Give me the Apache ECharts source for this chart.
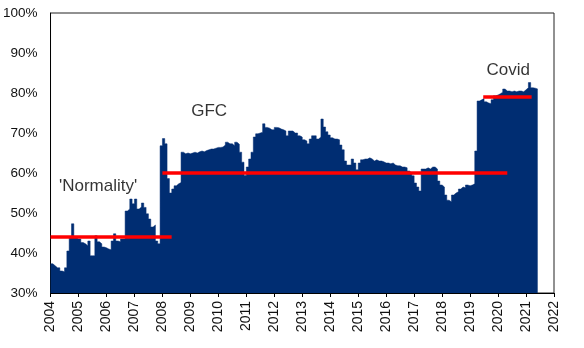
<!DOCTYPE html>
<html>
<head>
<meta charset="utf-8">
<script src="https://cdn.jsdelivr.net/npm/echarts@6/dist/echarts.min.js"></script>
<style>
  html, body { margin: 0; padding: 0; background: #fff; }
  #chart { width: 584px; height: 348px; }
</style>
</head>
<body>
<div id="chart"></div>
<script>
// Monthly values (%), January to December of each year
const y2004 = [37.3, 36.8, 36.3, 36.3, 35.5, 35.3, 36.3, 40.5, 44, 47.3, 44, 43.5];
const y2005 = [43.5, 42.6, 42.3, 41.8, 43, 39.3, 39.3, 44.3, 42.8, 42.3, 41.5, 41.3];
const y2006 = [41, 40.8, 43, 44.8, 43, 42.8, 43.5, 43.5, 50.5, 51, 53.5, 52.3];
const y2007 = [53.5, 51, 51.5, 52.5, 51.4, 49.8, 48.5, 46.5, 47, 43, 42.3, 66.8];
const y2008 = [68.6, 67.3, 58.6, 55, 56, 56.8, 57.3, 57.6, 65.2, 64.8, 65, 64.8];
const y2009 = [65, 65.2, 65, 65.3, 65.5, 65.3, 65.6, 65.8, 66, 66, 66.2, 66.4];
const y2010 = [66.4, 66.5, 67, 67.7, 67.3, 67.3, 66.8, 67.7, 67.2, 65.2, 62.7, 59.4];
const y2011 = [61.5, 63.5, 65.2, 69, 69.8, 70, 70.2, 72.3, 71.4, 71.2, 70.8, 70.8];
const y2012 = [71.4, 71.3, 71, 70.8, 70.5, 69.3, 70.5, 70.5, 70, 70, 69.3, 69];
const y2013 = [68.3, 68, 67.3, 68.5, 69.3, 69.3, 68.5, 69, 73.5, 71.5, 70.3, 69.5];
const y2014 = [68.8, 68.5, 68.5, 68.3, 67, 65.8, 63, 62, 62, 63.5, 62.5, 60.8];
const y2015 = [62.5, 63.3, 63.5, 63.5, 63.8, 63.5, 63, 63.3, 63, 63, 62.8, 62.5];
const y2016 = [62.5, 62.3, 62.5, 62, 61.8, 61.8, 61.5, 61.5, 61.3, 60.5, 60, 59.3];
const y2017 = [57.5, 56.5, 55.5, 61, 61, 61.3, 61, 61.5, 61.5, 61, 58, 57];
const y2018 = [56.5, 54.5, 53.2, 52.8, 54.5, 55, 55.3, 56, 56.5, 56.3, 57, 56.8];
const y2019 = [57, 57.3, 65.5, 78, 78.3, 78.6, 77.8, 77.5, 77.3, 78.3, 79.3, 79.5];
const y2020 = [79.8, 80.2, 81, 80.5, 80.5, 80.3, 80.5, 80.3, 80.5, 80.5, 80.3, 80.8];
const y2021 = [81.3, 82.6, 81.3, 81.2, 81];

const startYear = 2004;
const years = [y2004, y2005, y2006, y2007, y2008, y2009, y2010, y2011, y2012,
               y2013, y2014, y2015, y2016, y2017, y2018, y2019, y2020, y2021];

// Regime averages: [label, fromYear, toYear, level]
const regimeNames = ["'Normality'", "GFC", "Covid"];
const regimeFrom  = [2004.0, 2008.0, 2019.47];
const regimeTo    = [2008.33, 2020.33, 2021.2];
const regimeLevel = [44, 60, 79];
// annotation anchor points (data coordinates)
const labelX = [2005.7, 2009.67, 2020.36];
const labelY = [56.7, 75.5, 85.6];

const yTicks = [30, 40, 50, 60, 70, 80, 90, 100];

// build step series
const monthly = [].concat(...years);
const seriesData = monthly.map((v, i) => [startYear + i / 12, v]);
seriesData.push([startYear + monthly.length / 12, monthly[monthly.length - 1]]);

const NAVY = '#002D72';
const FONT = 'Liberation Sans, Arial, sans-serif';

const chart = echarts.init(document.getElementById('chart'), null, { renderer: 'canvas' });

const series = [{
  type: 'line',
  data: seriesData,
  step: 'end',
  symbol: 'none',
  lineStyle: { color: NAVY, width: 0.5 },
  areaStyle: { color: NAVY, opacity: 1, origin: 'start' },
  z: 2
}];

regimeNames.forEach((name, i) => {
  series.push({
    type: 'line',
    data: [[regimeFrom[i], regimeLevel[i]], [regimeTo[i], regimeLevel[i]]],
    symbol: 'none',
    lineStyle: { color: '#FF0000', width: 3.5 },
    z: 3
  });
});

series.push({
  type: 'scatter',
  data: regimeNames.map((n, i) => ({ value: [labelX[i], labelY[i]], name: n })),
  symbolSize: 0,
  label: {
    show: true,
    position: 'inside',
    formatter: p => p.name,
    color: '#000',
    fontFamily: FONT,
    fontSize: 17
  },
  z: 4
});

chart.setOption({
  animation: false,
  backgroundColor: '#fff',
  grid: {
    left: 50, right: 30, top: 13, bottom: 55,
    show: true, borderColor: '#222', borderWidth: 1, backgroundColor: 'transparent'
  },
  xAxis: {
    type: 'value',
    min: 2004, max: 2022, interval: 1,
    splitLine: { show: false },
    axisLine: { show: true, lineStyle: { color: '#000', width: 1 } },
    axisTick: { show: true, length: 4, lineStyle: { color: '#000' } },
    axisLabel: {
      rotate: 90, margin: 8, fontSize: 14, color: '#111', fontFamily: FONT,
      formatter: v => String(Math.round(v))
    }
  },
  yAxis: {
    type: 'value',
    min: yTicks[0], max: yTicks[yTicks.length - 1], interval: 10,
    splitLine: { show: false },
    axisLine: { show: true, lineStyle: { color: '#000', width: 1 } },
    axisTick: { show: false },
    axisLabel: {
      margin: 13, fontSize: 13.5, color: '#111', fontFamily: FONT,
      formatter: v => v + '%'
    }
  },
  series: series
});
</script>
</body>
</html>
